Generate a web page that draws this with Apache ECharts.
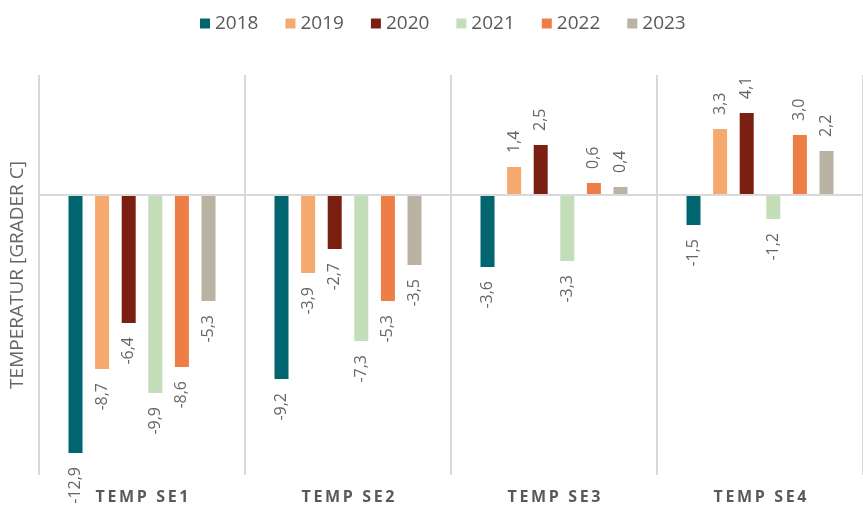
<!DOCTYPE html>
<html>
<head>
<meta charset="utf-8">
<script src="https://cdn.jsdelivr.net/npm/echarts@6/dist/echarts.min.js"></script>
<style>
  html, body { margin: 0; padding: 0; background: #fff; }
  #main { width: 863px; height: 518px; }
</style>
</head>
<body>
<div id="main"></div>
<script>
var categories = ['TEMP SE1', 'TEMP SE2', 'TEMP SE3', 'TEMP SE4'];
var years = ['2018', '2019', '2020', '2021', '2022', '2023'];

var v2018 = [-12.9, -9.2, -3.6, -1.5];
var v2019 = [-8.7, -3.9, 1.4, 3.3];
var v2020 = [-6.4, -2.7, 2.5, 4.1];
var v2021 = [-9.9, -7.3, -3.3, -1.2];
var v2022 = [-8.6, -5.3, 0.6, 3.0];
var v2023 = [-5.3, -3.5, 0.4, 2.2];

var values = [v2018, v2019, v2020, v2021, v2022, v2023];
var colors = ['#00656f', '#f6a96f', '#7b1f12', '#c3deb8', '#ef7e46', '#bab3a3'];

function fmt(v) {
  return v.toFixed(1).replace('.', ',');
}

var series = years.map(function (y, i) {
  return {
    name: y,
    type: 'bar',
    barWidth: 14,
    barGap: '90%',
    itemStyle: { color: colors[i] },
    data: values[i].map(function (v) {
      return {
        value: v,
        label: {
          show: true,
          position: v >= 0 ? 'top' : 'bottom',
          align: v >= 0 ? 'left' : 'right',
          verticalAlign: 'middle',
          rotate: 90,
          distance: 14,
          color: '#666666',
          fontSize: 16,
          fontFamily: 'Open Sans',
          formatter: function (p) { return fmt(p.value); }
        }
      };
    }),
    markLine: i === 0 ? {
      silent: true,
      symbol: 'none',
      label: { show: false },
      lineStyle: { color: '#d9d9d9', type: 'solid', width: 2 },
      data: [{ yAxis: 0 }]
    } : undefined
  };
});

var option = {
  animation: false,
  color: colors,
  legend: {
    top: 9,
    left: 195,
    itemWidth: 10,
    itemHeight: 10,
    itemGap: 27,
    icon: 'rect',
    textStyle: { color: '#595959', fontSize: 19, fontFamily: 'Open Sans' },
    data: years
  },
  grid: { left: 38, top: 75, width: 832, height: 400 },
  xAxis: {
    type: 'category',
    data: categories,
    axisLine: { show: false },
    axisTick: { show: false },
    splitLine: { show: true, lineStyle: { color: '#d9d9d9', width: 2 } },
    axisLabel: {
      margin: 14,
      color: '#595959',
      fontSize: 16,
      fontWeight: 'bold',
      fontFamily: 'Open Sans',
      formatter: function (s) { return s.split('').join('\u2009'); }
    }
  },
  yAxis: {
    type: 'value',
    min: -14,
    max: 6,
    interval: 2,
    name: 'TEMPERATUR [GRADER C]',
    nameLocation: 'middle',
    nameGap: 12,
    nameTextStyle: { color: '#666666', fontSize: 19, fontFamily: 'Open Sans' },
    axisLine: { show: false },
    axisTick: { show: false },
    axisLabel: { show: false },
    splitLine: { show: false }
  },
  series: series
};

var chartDom = document.getElementById('main');
var myChart = echarts.init(chartDom);
option && myChart.setOption(option);
</script>
</body>
</html>
